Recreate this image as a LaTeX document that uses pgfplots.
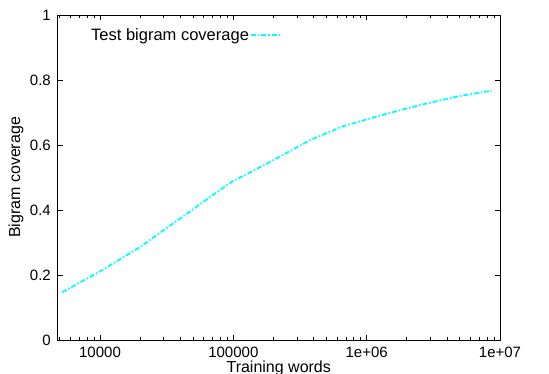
\documentclass[border=0pt]{standalone}
\usepackage{pgfplots}
\pgfplotsset{compat=1.18}
\usepackage{fontspec}
\setmainfont{Liberation Sans}
\begin{document}
\begin{tikzpicture}
\useasboundingbox (-57.5bp,-34bp) rectangle (491.5bp,340bp);
\begin{axis}[
  at={(0,0)}, anchor=south west,
  scale only axis,
  width=442.5bp, height=325bp,
  xmode=log,
  xmin=4800, xmax=1e7,
  ymin=0, ymax=1,
  xtick={1e4,1e5,1e6,1e7},
  xticklabels={10000,100000,1e+06,1e+07},
  minor xtick={5000,6000,7000,8000,9000,20000,30000,40000,50000,60000,70000,80000,90000,200000,300000,400000,500000,600000,700000,800000,900000,2e6,3e6,4e6,5e6,6e6,7e6,8e6,9e6},
  ytick={0,0.2,0.4,0.6,0.8,1},
  yticklabels={0,0.2,0.4,0.6,0.8,1},
  tick align=inside,
  major tick length=5bp,
  minor tick length=3bp,
  every tick/.style={black, line width=0.8pt},
  axis line style={black, line width=0.8pt},
  tick label style={font=\fontsize{15bp}{17bp}\selectfont},
  xticklabel style={anchor=base, inner sep=0pt, yshift=-17bp},
  yticklabel style={anchor=east, inner sep=0pt, xshift=-6.5bp},
  xlabel={Training words},
  ylabel={Bigram coverage},
  label style={font=\fontsize{16bp}{18bp}\selectfont},
  xlabel style={at={(axis description cs:0.5,-0.086)}, anchor=center, inner sep=0pt},
  ylabel style={at={(axis description cs:-0.0938,0.5)}, anchor=center},
  legend style={draw=none, fill=none, at={(0.0735,0.9385)}, anchor=west,
    legend cell align=right, inner sep=0pt,
    font=\fontsize{16.5bp}{18bp}\selectfont,
    nodes={inner sep=1bp},
    /tikz/every even column/.append style={column sep=8bp}},
  legend plot pos=right,
  legend image code/.code={\draw[#1] (0bp,0bp) -- (30bp,0bp);},
]
\addplot[color={rgb,255:red,0;green,255;blue,255}, line width=1.8bp,
  dash pattern=on 5bp off 2bp on 1.5bp off 2bp]
coordinates {
(5200,0.147)
(10000,0.211)
(20000,0.286)
(30730,0.341)
(50100,0.403)
(70800,0.447)
(100000,0.490)
(140000,0.520)
(211300,0.559)
(375800,0.615)
(668000,0.658)
(1.297e6,0.692)
(2.512e6,0.723)
(5.01e6,0.751)
(8.67e6,0.767)
};
\addlegendentry{Test bigram coverage}
\end{axis}
\end{tikzpicture}
\end{document}
